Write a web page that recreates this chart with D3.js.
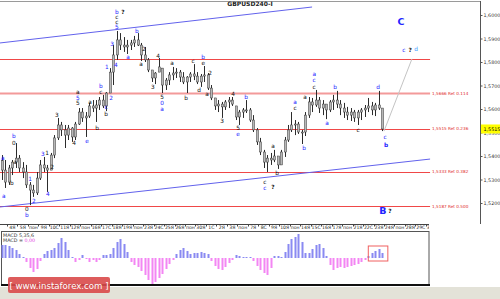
<!DOCTYPE html>
<html><head><meta charset="utf-8">
<script src="https://cdn.jsdelivr.net/npm/d3@7"></script>
<style>body{margin:0;background:#fff}svg{display:block}text{font-family:"DejaVu Sans",sans-serif}</style>
</head><body><svg width="500" height="299"></svg>
<script>
// GBPUSD, 8H bars
var firstOpen = 1.5380;
var highs = [1.5404,1.5383,1.5362,1.5383,1.5455,1.5404,1.5374,1.5362,1.5289,1.5277,
 1.5332,1.5383,1.5396,1.5362,1.5413,1.5489,1.5562,1.5545,1.5532,1.5532,
 1.5523,1.5545,1.5604,1.5604,1.5587,1.5626,1.5638,1.5638,1.5651,1.5660,
 1.5672,1.5774,1.5872,1.5932,1.5923,1.5906,1.5894,1.5894,1.5911,1.5923,
 1.5881,1.5864,1.5817,1.5766,1.5757,1.5817,1.5774,1.5732,1.5757,1.5779,
 1.5774,1.5766,1.5757,1.5740,1.5757,1.5791,1.5757,1.5749,1.5783,1.5753,
 1.5702,1.5647,1.5638,1.5630,1.5638,1.5651,1.5651,1.5613,1.5596,1.5604,
 1.5638,1.5604,1.5574,1.5519,1.5477,1.5426,1.5404,1.5413,1.5426,1.5400,
 1.5426,1.5481,1.5532,1.5587,1.5553,1.5545,1.5511,1.5587,1.5651,1.5647,
 1.5681,1.5651,1.5638,1.5621,1.5638,1.5660,1.5677,1.5638,1.5626,1.5609,
 1.5604,1.5596,1.5596,1.5604,1.5617,1.5647,1.5630,1.5626,1.5677,1.5604];
var lows = [1.5298,1.5264,1.5277,1.5319,1.5349,1.5332,1.5306,1.5264,1.5191,1.5226,
 1.5234,1.5298,1.5332,1.5247,1.5340,1.5391,1.5468,1.5485,1.5434,1.5468,
 1.5460,1.5468,1.5532,1.5545,1.5481,1.5562,1.5587,1.5545,1.5596,1.5604,
 1.5591,1.5668,1.5702,1.5809,1.5851,1.5843,1.5834,1.5851,1.5864,1.5868,
 1.5804,1.5800,1.5757,1.5715,1.5706,1.5757,1.5668,1.5681,1.5702,1.5723,
 1.5732,1.5715,1.5706,1.5668,1.5715,1.5723,1.5706,1.5694,1.5715,1.5681,
 1.5638,1.5596,1.5587,1.5562,1.5596,1.5604,1.5613,1.5553,1.5532,1.5562,
 1.5583,1.5545,1.5502,1.5447,1.5404,1.5349,1.5332,1.5362,1.5374,1.5345,
 1.5362,1.5396,1.5460,1.5502,1.5489,1.5494,1.5451,1.5485,1.5562,1.5587,
 1.5609,1.5583,1.5574,1.5557,1.5587,1.5596,1.5604,1.5574,1.5562,1.5553,
 1.5549,1.5545,1.5532,1.5553,1.5566,1.5587,1.5574,1.5570,1.5596,1.5506];
var closes = [1.5340,1.5289,1.5349,1.5374,1.5391,1.5349,1.5332,1.5277,1.5255,1.5243,
 1.5306,1.5362,1.5349,1.5340,1.5404,1.5477,1.5532,1.5511,1.5489,1.5519,
 1.5481,1.5536,1.5587,1.5562,1.5570,1.5613,1.5604,1.5617,1.5638,1.5613,
 1.5668,1.5757,1.5830,1.5894,1.5872,1.5864,1.5872,1.5881,1.5894,1.5872,
 1.5830,1.5809,1.5766,1.5732,1.5753,1.5779,1.5702,1.5723,1.5745,1.5753,
 1.5757,1.5736,1.5715,1.5736,1.5749,1.5740,1.5715,1.5740,1.5745,1.5689,
 1.5647,1.5613,1.5621,1.5609,1.5630,1.5638,1.5621,1.5566,1.5587,1.5596,
 1.5596,1.5553,1.5511,1.5460,1.5417,1.5374,1.5391,1.5383,1.5400,1.5362,
 1.5417,1.5468,1.5511,1.5532,1.5536,1.5502,1.5502,1.5574,1.5630,1.5617,
 1.5638,1.5604,1.5621,1.5596,1.5630,1.5638,1.5621,1.5604,1.5587,1.5574,
 1.5587,1.5562,1.5587,1.5596,1.5604,1.5613,1.5596,1.5617,1.5604,1.5515];
// MACD(5,35,6) histogram, in pips
var macdPips = [13,13,12,10,8,4,1,-4,-10,-14,
 -11,-3,4,7,8,10,15,20,16,8,
 1,-4,-2,3,-1,-4,-2,-4,-2,3,
 3,4,10,16,19,14,6,-4,-7,-9,
 -13,-17,-22,-26,-24,-20,-16,-11,-6,-2,
 4,8,10,7,4,5,5,6,5,4,
 -3,-8,-11,-12,-9,-5,-2,3,2,1,
 1,1,-3,-8,-12,-15,-17,-10,2,2,
 1,6,14,19,21,24,16,5,5,9,
 13,14,10,2,-7,-12,-10,-9,-10,-9,
 -8,-7,-6,-4,-2,2,5,7,9,5];
var dayLabels = ["4Я","5Я","пон","9Я","10С","11Я","12Я","пон","16Я","17С","18Я","19Я","пон",
 "23Я","24С","25Я","26Я","пон","30Я","1С","2Я","3Я","пон","7Я","8С","9Я","10Я","пон",
 "14Я","15С","16Я","17Я","пон","21Я","22С","23Я","24Я","пон","28Я","29С","30Я"];
var priceTicks = [1.52,1.53,1.54,1.55,1.56,1.57,1.58,1.59,1.60];
var fibLevels = [1.5812,1.5666,1.5515,1.5333,1.5187];
var fibNames = ["","Ret 0.114","Ret 0.236","Ret 0.382","Ret 0.500"];
var fibEndBar = 122.7;
var lastPrice = 1.5515;
var channelTop = [[-0.5,1.5881],[88.9,1.6034]];
var channelBottom = [[-0.5,1.5183],[122.7,1.5387]];
var projection = [[109.5,1.5506],[117.5,1.5813]];
var macdBox = {from:105, to:110.6, top:12, bottom:-3};
// wave marks: bar, price, text, colour, weight
var waves = [
 [0.3,1.5391,"a","b"],[0.6,1.5230,"a","b"],[3.8,1.5374,"a","k"],[3.5,1.5485,"b","b"],
 [3.5,1.5455,"0","k"],[2.9,1.5285,"b","k"],[7.2,1.5174,"0","k"],[7.2,1.5149,"b","b"],
 [8.1,1.5302,"1","b"],[9.2,1.5209,"2","b"],[11.8,1.5409,"3","b"],[13.0,1.5413,"1","k"],
 [14.4,1.5353,"2","k"],[13.2,1.5238,"4","b"],[15.8,1.5574,"3","k"],[20.7,1.5455,"4","k"],
 [24.4,1.5464,"e","b"],[27.3,1.5519,"b","k"],[21.8,1.5672,"a","k"],[21.8,1.5647,"5","b"],
 [21.8,1.5626,"5","k"],[25.3,1.5630,"a","k"],[28.4,1.5698,"b","b"],[28.4,1.5672,"c","k"],
 [29.9,1.5609,"c","b"],[29.9,1.5579,"b","k"],[31.3,1.5647,"2","b"],[30.1,1.5779,"1","b"],
 [31.6,1.5877,"3","b"],[32.7,1.5787,"4","b"],[33.0,1.5949,"5","b"],[33.0,1.5970,"c","k"],
 [33.0,1.5991,"c","k"],[33.0,1.6013,"b","b"],[34.7,1.6013,"?","k",1],[36.2,1.5821,"a","b"],
 [38.7,1.5932,"b","b"],[40.7,1.5855,"2","k"],[39.9,1.5791,"a","k"],[44.8,1.5826,"4","k"],
 [43.3,1.5694,"3","k"],[45.9,1.5651,"5","k"],[45.9,1.5626,"0","b"],[45.9,1.5600,"a","b"],
 [48.8,1.5796,"a","k"],[52.8,1.5647,"b","k"],[54.8,1.5804,"c","k"],[56.5,1.5681,"d","k"],
 [57.7,1.5796,"e","k"],[57.7,1.5821,"b","b"],[59.7,1.5753,"2","k"],[58.8,1.5664,"a","k"],
 [66.3,1.5664,"4","k"],[70.0,1.5651,"b","b"],[63.1,1.5549,"3","k"],[67.7,1.5519,"5","k"],
 [67.7,1.5494,"e","b"],[75.4,1.5289,"c","k"],[75.4,1.5264,"c","b"],[77.7,1.5268,"?","k",1],
 [77.7,1.5443,"a","k"],[78.9,1.5328,"b","k"],[86.6,1.5434,"b","b"],[84.0,1.5630,"a","b"],
 [84.0,1.5604,"c","k"],[86.9,1.5651,"a","k"],[89.5,1.5694,"c","k"],[89.5,1.5723,"c","b"],
 [89.5,1.5749,"a","b"],[93.2,1.5540,"a","b"],[95.5,1.5694,"b","b"],[102.1,1.5511,"c","k"],
 [107.8,1.5694,"d","b"],[109.8,1.5481,"c","b"],[110.1,1.5447,"b","b",1],[114.4,1.5970,"C","b",2],
 [115.2,1.5851,"c","b"],[117.0,1.5851,"?","k",1],[118.7,1.5855,"d","c"],
 [109.2,1.5166,"B","b",2],[111.2,1.5166,"?","k",1]
];

var colors = {b:"#2424ff", k:"#111", c:"#3a9cff"};
var fmt = function(d){ return d3.format(".4f")(d).replace(".", ","); };

var svg = d3.select("svg"),
	W = +svg.attr("width"),
	H = +svg.attr("height");

var x = d3.scaleLinear().domain([-0.5, 137]).range([0, 480]);
var y = d3.scaleLinear().domain([1.52, 1.60]).range([203, 15]);
var ym = d3.scaleLinear().domain([-26, 26]).range([284, 232]);

svg.append("rect").attr("width", W).attr("height", H).attr("fill", "#fff");
svg.append("rect").attr("x", 0).attr("y", 287).attr("width", W).attr("height", H - 287).attr("fill", "#e3e2d8");

var defs = svg.append("defs");
defs.append("clipPath").attr("id", "main").append("rect")
	.attr("x", 0).attr("y", 1).attr("width", 480).attr("height", 223);
defs.append("clipPath").attr("id", "strip").append("rect")
	.attr("x", 0).attr("y", 224).attr("width", 429).attr("height", 8);

var g = svg.append("g").attr("clip-path", "url(#main)");

// fib levels
g.selectAll("line.fib").data(fibLevels).enter().append("line")
	.attr("class", "fib")
	.attr("x1", 0).attr("x2", x(fibEndBar))
	.attr("y1", function(d){ return Math.round(y(d)) + 0.5; })
	.attr("y2", function(d){ return Math.round(y(d)) + 0.5; })
	.attr("stroke", function(d, i){ return i == 1 ? "#f39a9a" : "#f04848"; })
	.attr("stroke-width", function(d, i){ return i == 1 ? 2 : 1; });

svg.selectAll("text.fib").data(fibLevels).enter().append("text")
	.filter(function(d, i){ return fibNames[i] != ""; })
	.attr("x", x(fibEndBar) + 2)
	.attr("y", function(d){ return y(d); })
	.attr("dy", "0.35em")
	.attr("font-size", 4.2)
	.attr("fill", "#e02828")
	.text(function(d){ return fmt(d) + " " + fibNames[fibLevels.indexOf(d)]; });

// channel
var line = d3.line().x(function(d){ return x(d[0]); }).y(function(d){ return y(d[1]); });
[channelTop, channelBottom].forEach(function(c){
	g.append("path").attr("d", line(c)).attr("stroke", "#6262ec").attr("fill", "none").attr("stroke-width", 1);
});
g.append("path").attr("d", line(projection)).attr("stroke", "#c4c4c4").attr("fill", "none").attr("stroke-width", 1);

// bars
var bars = highs.map(function(h, i){
	return {i:i, h:h, l:lows[i], c:closes[i], o: i ? closes[i-1] : firstOpen};
});
var bar = g.append("g").selectAll("g").data(bars).enter().append("g");
bar.append("line")
	.attr("x1", function(d){ return Math.round(x(d.i)) + 0.5; })
	.attr("x2", function(d){ return Math.round(x(d.i)) + 0.5; })
	.attr("y1", function(d){ return y(d.h); })
	.attr("y2", function(d){ return y(d.l); })
	.attr("stroke", "#2c2c2c");
bar.append("rect")
	.attr("x", function(d){ return Math.round(x(d.i)) - 0.6; })
	.attr("width", 2.2)
	.attr("y", function(d){ return y(Math.min(Math.max(d.o, d.c), d.h)); })
	.attr("height", function(d){ return Math.max(1, y(Math.max(Math.min(d.o, d.c), d.l)) - y(Math.min(Math.max(d.o, d.c), d.h))); })
	.attr("fill", "#b8b8b8")
	.attr("stroke", "#3a3a3a")
	.attr("stroke-width", 0.5);

// wave marks
svg.append("g").selectAll("text").data(waves).enter().append("text")
	.attr("x", function(d){ return x(d[0]); })
	.attr("y", function(d){ return y(d[1]); })
	.attr("dy", "0.35em")
	.attr("text-anchor", "middle")
	.attr("font-size", function(d){ return d[4] == 2 ? 9.5 : 5.8; })
	.attr("font-weight", function(d){ return d[4] ? "bold" : "normal"; })
	.attr("fill", function(d){ return colors[d[3]]; })
	.text(function(d){ return d[2]; });

// frame and price axis
svg.append("line").attr("x1", 0).attr("x2", 480).attr("y1", 1.5).attr("y2", 1.5).attr("stroke", "#9a9a9a");
svg.append("line").attr("x1", 480.5).attr("x2", 480.5).attr("y1", 1).attr("y2", 224).attr("stroke", "#555");
var ax = svg.append("g").attr("transform", "translate(480.5,0)")
	.call(d3.axisRight(y).tickValues(priceTicks).tickFormat(fmt).tickSize(2).tickPadding(1));
ax.select(".domain").remove();
ax.selectAll("line").attr("stroke", "#555");
ax.selectAll("text").attr("font-family", "Liberation Sans, sans-serif").attr("font-size", 4.8).attr("fill", "#333");

svg.append("rect").attr("x", 481).attr("y", y(lastPrice) - 4.5).attr("width", 19).attr("height", 9).attr("fill", "#ffff00");
svg.append("text").attr("x", 483.5).attr("y", y(lastPrice)).attr("dy", "0.35em")
	.attr("font-family", "Liberation Sans, sans-serif")
	.attr("font-size", 4.8).attr("fill", "#000").text(fmt(lastPrice));

svg.append("text").attr("x", 250).attr("y", 5.5).attr("text-anchor", "middle")
	.attr("font-size", 6).attr("font-weight", "bold").attr("fill", "#222").text("GBPUSD240-I");

// time strip
var strip = svg.append("g").attr("clip-path", "url(#strip)");
strip.append("line").attr("x1", 0).attr("x2", 429).attr("y1", 224.5).attr("y2", 224.5).attr("stroke", "#444");
strip.selectAll("line.tk").data(dayLabels).enter().append("line")
	.attr("class", "tk")
	.attr("x1", function(d, k){ return Math.round(x(3 * k + 1.5)) + 0.5; })
	.attr("x2", function(d, k){ return Math.round(x(3 * k + 1.5)) + 0.5; })
	.attr("y1", 224).attr("y2", 226.5).attr("stroke", "#444");
var xa = strip.append("g").attr("transform", "translate(0,224)")
	.call(d3.axisBottom(x).tickValues(dayLabels.map(function(d, k){ return 3 * k + 2.9; }))
		.tickFormat(function(d, k){ return dayLabels[k]; }).tickSize(0).tickPadding(1.5));
xa.select(".domain").remove();
xa.selectAll("text").attr("font-size", 4.6).attr("fill", "#222");

// MACD window
svg.append("rect").attr("x", 1.5).attr("y", 231.5).attr("width", 427.5).attr("height", 53)
	.attr("fill", "#fff").attr("stroke", "#555");
svg.append("line").attr("x1", 1).attr("x2", 430).attr("y1", 285).attr("y2", 285).attr("stroke", "#111").attr("stroke-width", 2);
svg.append("g").selectAll("rect").data(macdPips).enter().append("rect")
	.attr("x", function(d, i){ return Math.round(x(i)) - 0.5; })
	.attr("width", 2)
	.attr("y", function(d){ return ym(Math.max(d, 0)); })
	.attr("height", function(d){ return Math.abs(ym(d) - ym(0)); })
	.attr("fill", function(d){ return d >= 0 ? "#8a8af2" : "#f386f3"; });
svg.append("rect")
	.attr("x", x(macdBox.from)).attr("width", x(macdBox.to) - x(macdBox.from))
	.attr("y", ym(macdBox.top)).attr("height", ym(macdBox.bottom) - ym(macdBox.top))
	.attr("fill", "none").attr("stroke", "#f06060").attr("stroke-width", 1);
svg.append("text").attr("x", 3).attr("y", 236.5).attr("font-size", 4.8).attr("fill", "#333").text("MACD 5,35,6");
var mt = svg.append("text").attr("x", 3).attr("y", 242).attr("font-size", 4.8).attr("fill", "#333").text("MACD = ");
mt.append("tspan").attr("fill", "#e040e0").text("0,00");

// watermark
svg.append("rect").attr("x", 8).attr("y", 277).attr("width", 102).attr("height", 16).attr("rx", 2)
	.attr("fill", "#d94a4a").attr("opacity", 0.9);
svg.append("text").attr("x", 59).attr("y", 285.5).attr("dy", "0.35em").attr("text-anchor", "middle")
	.attr("font-family", "Liberation Sans, sans-serif").attr("font-size", 8.6).attr("fill", "#fff")
	.text("[ www.instaforex.com ]");
</script>
</body></html>
